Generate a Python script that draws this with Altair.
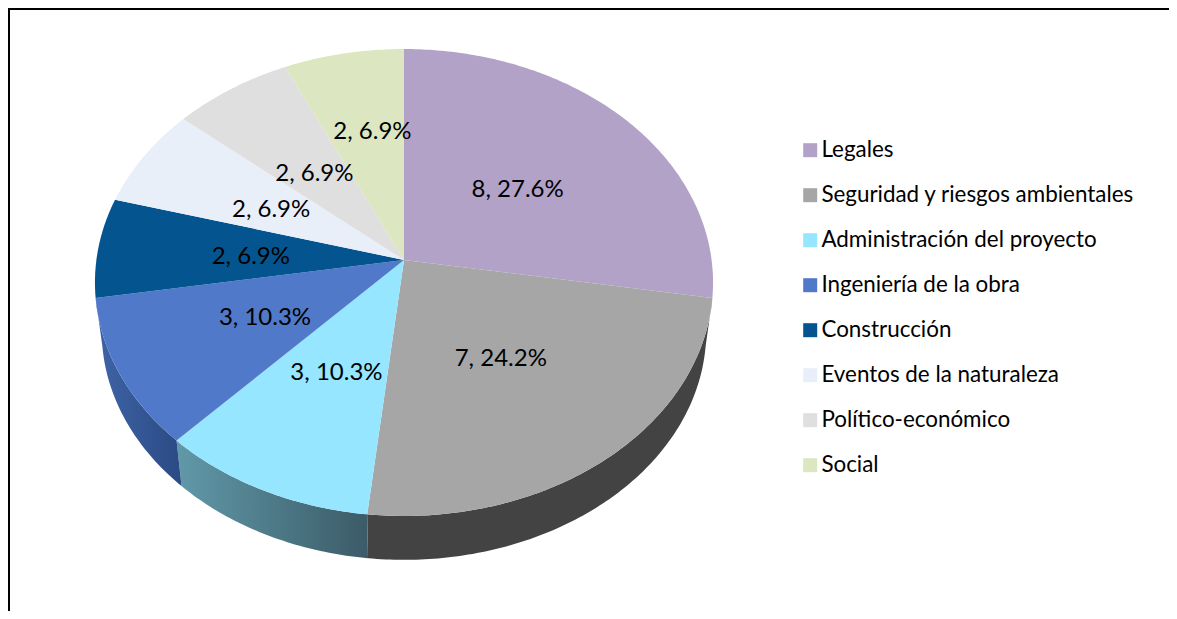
import math
import altair as alt
import pandas as pd

categories = ["Legales", "Seguridad y riesgos ambientales", "Administración del proyecto",
              "Ingeniería de la obra", "Construcción", "Eventos de la naturaleza",
              "Político-económico", "Social"]
values = [8, 7, 3, 3, 2, 2, 2, 2]
percent_labels = ["27.6%", "24.2%", "10.3%", "10.3%", "6.9%", "6.9%", "6.9%", "6.9%"]
colors = ["#B3A2C7", "#A6A6A6", "#96E6FF", "#5079C9", "#04558F", "#E9EFF9", "#DFDFDF", "#DCE6C0"]

W, H = 1161, 603
OX, OY = 8, 8
total = sum(values)


def project(angle_deg, r=1.0, lower=False):
    t = math.radians(angle_deg)
    k = 0.0964
    den = 1 + k * r * math.cos(t)
    dx = 307.6 * r * math.sin(t) / den
    dy = -231.3 * r * math.cos(t) / den
    if lower:
        return 404 + 0.978 * dx - OX, 309.5 + 0.978 * dy - OY
    return 404 + dx - OX, 260 + dy - OY


bounds = [0.0]
for v in values:
    bounds.append(bounds[-1] + 360.0 * v / total)


def arc_angles(a0, a1):
    n = max(2, int((a1 - a0) / 0.75))
    return [a0 + (a1 - a0) * j / n for j in range(n + 1)]


faces = []
for i, c in enumerate(categories):
    pts = [project(0, 0)] + [project(a) for a in arc_angles(bounds[i], bounds[i + 1])]
    for j, (x, y) in enumerate(pts):
        faces.append({"cat": c, "o": j, "x": x, "y": y})
faces = pd.DataFrame(faces)


def wall(i):
    angles = arc_angles(bounds[i], bounds[i + 1])
    pts = [project(a) for a in angles] + [project(a, lower=True) for a in reversed(angles)]
    return pd.DataFrame([{"o": j, "x": x, "y": y} for j, (x, y) in enumerate(pts)])


labels = []
for i, c in enumerate(categories):
    x, y = project((bounds[i] + bounds[i + 1]) / 2, 0.5)
    labels.append({"cat": c, "x": x, "y": y, "t": f"{values[i]}, {percent_labels[i]}"})
labels = pd.DataFrame(labels)

xs = alt.Scale(domain=[0, W], range=[0, W], nice=False, zero=False)
ys = alt.Scale(domain=[0, H], range=[0, H], nice=False, zero=False)
X = alt.X("x:Q", scale=xs, axis=None)
Y = alt.Y("y:Q", scale=ys, axis=None)


def wall_layer(i, fill):
    return alt.Chart(wall(i)).mark_line(filled=True, fill=fill, strokeWidth=0, interpolate="linear").encode(
        x=X, y=Y, order="o:Q")


def grad(c0, c1):
    return alt.Gradient(gradient="linear", x1=0, x2=1, y1=0, y2=0,
                        stops=[alt.GradientStop(color=c0, offset=0), alt.GradientStop(color=c1, offset=1)])


walls = [
    wall_layer(1, "#434343"),
    wall_layer(2, grad("#6199A9", "#3B5B67")),
    wall_layer(3, grad("#3F64A6", "#2B4A85")),
]

FONT = "Lato"
face_layer = alt.Chart(faces).mark_line(filled=True, interpolate="linear", strokeWidth=0).encode(
    x=X, y=Y, order="o:Q",
    fill=alt.Fill("cat:N", scale=alt.Scale(domain=categories, range=colors), sort=categories,
                  legend=alt.Legend(title=None, orient="none", legendX=791, legendY=131,
                                    symbolType="square", symbolSize=196, symbolStrokeWidth=0,
                                    labelFont=FONT, labelFontSize=22.4, labelColor="#000000",
                                    rowPadding=22, labelOffset=0, labelLimit=400, symbolOpacity=1)),
    detail="cat:N",
)

main_labels = alt.Chart(labels[labels.cat != "Social"]).mark_text(font=FONT, fontSize=24, color="#000000", dy=3).encode(
    x=X, y=Y, text="t:N")
social_label = alt.Chart(labels[labels.cat == "Social"]).mark_text(font=FONT, fontSize=24, color="#000000", dy=-20).encode(
    x=X, y=Y, text="t:N")

frame = pd.DataFrame({"x": [1, 1, W], "y": [H, 1, 1], "o": [0, 1, 2]})
frame_layer = alt.Chart(frame).mark_line(color="#000000", strokeWidth=2, interpolate="linear").encode(x=X, y=Y, order="o:Q")

chart = alt.layer(*walls, face_layer, main_labels, social_label, frame_layer).properties(
    width=W, height=H, padding=0, autosize=alt.AutoSizeParams(type="none"), background="#FFFFFF",
).configure_view(strokeWidth=0)

chart.save("out.html", embed_options={"renderer": "svg", "actions": False})
